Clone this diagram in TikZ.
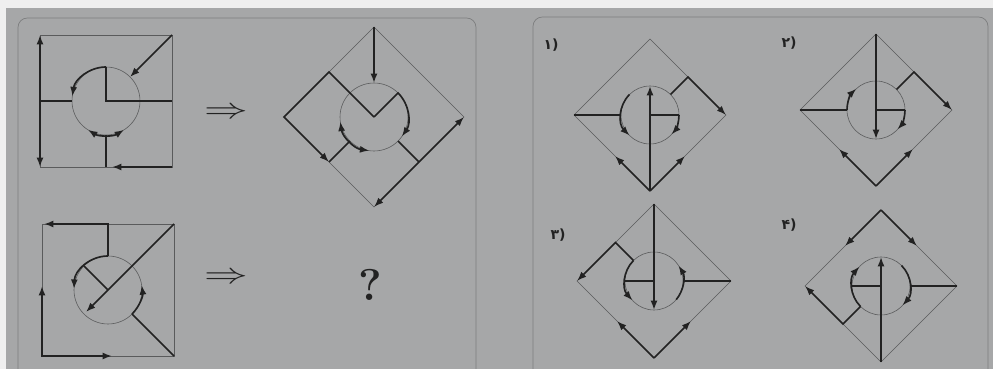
\documentclass[tikz,border=0pt]{standalone}
\usepackage{fontspec}
\newfontfamily\farsifont{DejaVu Sans}
\usetikzlibrary{arrows.meta}
\definecolor{paper}{HTML}{A6A7A8}
\definecolor{margin}{HTML}{EFEFEF}
\definecolor{ink}{HTML}{222222}
\definecolor{pencil}{HTML}{5A5B5C}

\begin{document}
\begin{tikzpicture}[x=0.03cm, y=0.03cm,
  outline/.style={draw=pencil, line width=0.5pt},
  stroke/.style={draw=ink, line width=1.4pt},
  arr/.style={stroke, -{Latex[length=8pt,width=6pt]}},
  darr/.style={stroke, {Latex[length=8pt,width=6pt]}-{Latex[length=8pt,width=6pt]}},
  panel/.style={draw=pencil!55!paper, line width=0.6pt, rounded corners=8pt},
  optlabel/.style={font=\farsifont\bfseries\large, text=ink},
  implies/.style={font=\fontsize{27}{27}\selectfont, text=ink, xscale=1.5, transform shape}
]
  \useasboundingbox (0,0) rectangle (993,369);
  \fill[margin] (0,0) rectangle (993,369);
  \fill[paper] (6,0) rectangle (993,361);
  \draw[panel] (18,-10) -- (18,351) -- (476,351) -- (476,-10);
  \draw[panel] (533,-10) -- (533,352) -- (988,352) -- (988,-10);

  \begin{scope}[shift={(106,268)}]
    \draw[outline] (-66,-66) rectangle (66,66);
    \draw[outline] (0,0) circle[radius=34];
    \draw[darr] (-66,-66) -- (-66,66);
    \draw[stroke] (-66,0) -- (-34,0);
    \draw[arr] (90:34) arc[start angle=90, end angle=172, radius=34];
    \draw[stroke] (90:34) -- (0,0) -- (66,0);
    \draw[arr] (66,66) -- (24,24);
    \draw[darr] (-122:34) arc[start angle=-122, end angle=-58, radius=34];
    \draw[stroke] (0,-34) -- (0,-66);
    \draw[arr] (66,-66) -- (6,-66);
  \end{scope}

  \begin{scope}[shift={(374,252)}]
    \draw[outline] (0,90) -- (90,0) -- (0,-90) -- (-90,0) -- cycle;
    \draw[outline] (0,0) circle[radius=34];
    \draw[arr] (0,90) -- (0,34);
    \draw[arr] (0,0) -- (-45,45) -- (-90,0) -- (-45,-45);
    \draw[stroke] (-45,-45) -- (-135:34);
    \draw[darr] (188:34) arc[start angle=188, end angle=262, radius=34];
    \draw[arr] (0,0) -- (45:34) arc[start angle=45, end angle=-35, radius=34];
    \draw[stroke] (-45:34) -- (45,-45);
    \draw[darr] (90,0) -- (0,-90);
  \end{scope}

  \begin{scope}[shift={(108,79)}]
    \draw[outline] (-66,-66) rectangle (66,66);
    \draw[outline] (0,0) circle[radius=34];
    \draw[arr] (0,34) -- (0,66) -- (-64,66);
    \draw[arr] (90:34) arc[start angle=90, end angle=178, radius=34];
    \draw[stroke] (135:34) -- (0,0);
    \draw[arr] (66,66) -- (-22,-22);
    \draw[arr] (-45:34) arc[start angle=-45, end angle=8, radius=34];
    \draw[stroke] (-45:34) -- (66,-66);
    \draw[darr] (-66,4) -- (-66,-66) -- (4,-66);
  \end{scope}

  \node[implies] (implyA) at (226,256) {$\Rightarrow$};
  \node[implies] (implyC) at (226,91) {$\Rightarrow$};
  \node[font=\bfseries\fontsize{38}{38}\selectfont, text=ink] (query) at (370,84) {?};

  \node[optlabel] (opt1) at (551,324) {۱)};
  \node[optlabel] (opt2) at (789,326) {۲)};
  \node[optlabel] (opt3) at (558,134) {۳)};
  \node[optlabel] (opt4) at (789,144) {۴)};

  \begin{scope}[shift={(650,254)}]
    \draw[outline] (0,76) -- (76,0) -- (0,-76) -- (-76,0) -- cycle;
    \draw[outline] (0,0) circle[radius=29];
    \draw[arr] (0,-76) -- (0,29);
    \draw[arr] (0,-76) -- (-35,-41);
    \draw[arr] (0,-76) -- (35,-41);
    \draw[stroke] (-76,0) -- (-29,0);
    \draw[arr] (135:29) arc[start angle=135, end angle=225, radius=29];
    \draw[stroke] (0,0) -- (29,0);
    \draw[arr] (0:29) arc[start angle=0, end angle=-42, radius=29];
    \draw[arr] (45:29) -- (38,38) -- (76,0);
  \end{scope}

  \begin{scope}[shift={(876,259)}]
    \draw[outline] (0,76) -- (76,0) -- (0,-76) -- (-76,0) -- cycle;
    \draw[outline] (0,0) circle[radius=29];
    \draw[arr] (0,76) -- (0,-29);
    \draw[stroke] (-76,0) -- (-29,0);
    \draw[arr] (180:29) arc[start angle=180, end angle=133, radius=29];
    \draw[stroke] (0,0) -- (29,0);
    \draw[arr] (0:29) arc[start angle=0, end angle=-42, radius=29];
    \draw[arr] (45:29) -- (38,38) -- (76,0);
    \draw[arr] (0,-76) -- (-37,-39);
    \draw[arr] (0,-76) -- (37,-39);
  \end{scope}

  \begin{scope}[shift={(654,88)}]
    \draw[outline] (0,77) -- (77,0) -- (0,-77) -- (-77,0) -- cycle;
    \draw[outline] (0,0) circle[radius=29];
    \draw[arr] (0,77) -- (0,-29);
    \draw[stroke] (0,0) -- (-29,0);
    \draw[arr] (135:29) arc[start angle=135, end angle=222, radius=29];
    \draw[arr] (135:29) -- (-38.5,38.5) -- (-77,0);
    \draw[stroke] (29,0) -- (77,0);
    \draw[arr] (-40:29) arc[start angle=-40, end angle=32, radius=29];
    \draw[arr] (0,-77) -- (-37,-40);
    \draw[arr] (0,-77) -- (37,-40);
  \end{scope}

  \begin{scope}[shift={(881,83)}]
    \draw[outline] (0,76) -- (76,0) -- (0,-76) -- (-76,0) -- cycle;
    \draw[outline] (0,0) circle[radius=29];
    \draw[arr] (0,-76) -- (0,29);
    \draw[arr] (0,76) -- (-36,40);
    \draw[arr] (0,76) -- (36,40);
    \draw[stroke] (-29,0) -- (0,0);
    \draw[arr] (225:29) arc[start angle=225, end angle=138, radius=29];
    \draw[arr] (225:29) -- (-38,-38) -- (-76,0);
    \draw[stroke] (29,0) -- (76,0);
    \draw[arr] (45:29) arc[start angle=45, end angle=-42, radius=29];
  \end{scope}
\end{tikzpicture}
\end{document}
